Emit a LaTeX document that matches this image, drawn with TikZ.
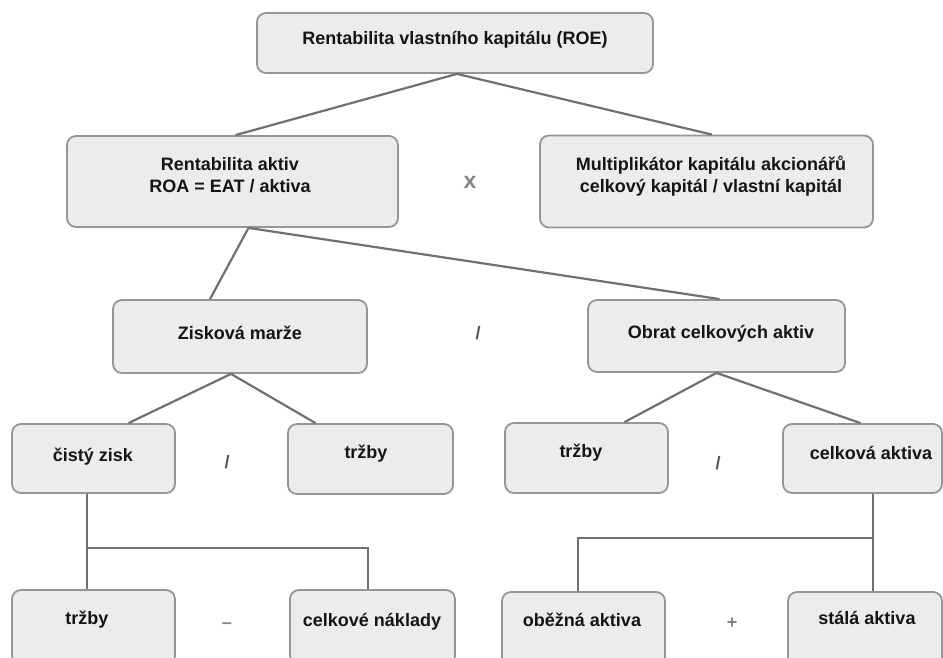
\documentclass[tikz,border=0pt]{standalone}
\usepackage{fontspec}
\setmainfont{Liberation Sans}
\usetikzlibrary{calc}
\definecolor{boxfill}{HTML}{ECECEC}
\definecolor{boxline}{HTML}{959595}
\definecolor{linkc}{HTML}{707070}
\definecolor{txt}{HTML}{151515}
\definecolor{opc}{HTML}{555555}
\definecolor{oplight}{HTML}{858585}
\tikzset{
  box/.style={draw=boxline, fill=boxfill, line width=1.8pt, rounded corners=9pt, inner sep=0pt},
  lbl/.style={font=\bfseries\fontsize{18}{22}\selectfont, text=txt, align=center, inner sep=0pt},
  link/.style={draw=linkc, line width=2.2pt},
  opsign/.style={font=\bfseries\fontsize{18}{22}\selectfont, text=opc, inner sep=0pt},
}
\begin{document}
\begin{tikzpicture}[x=1pt,y=-1pt]
\useasboundingbox (0,0) rectangle (943,657);
\clip (0,0) rectangle (943,657);
% boxes
\node[box, minimum width=396pt, minimum height=60pt] (top) at (455,43) {};
\node[box, minimum width=331pt, minimum height=91pt] (roa) at (232.5,181.5) {};
\node[box, minimum width=333pt, minimum height=92pt] (mult) at (706.5,181.5) {};
\node[box, minimum width=254pt, minimum height=73pt] (zm) at (240,336.5) {};
\node[box, minimum width=257pt, minimum height=72pt] (obr) at (716.5,336) {};
\node[box, minimum width=163pt, minimum height=69pt] (cz) at (93.5,458.5) {};
\node[box, minimum width=165pt, minimum height=70pt] (tr1) at (370.5,459) {};
\node[box, minimum width=163pt, minimum height=70pt] (tr2) at (586.5,458) {};
\node[box, minimum width=159pt, minimum height=69pt] (ca) at (862.5,458.5) {};
\node[box, minimum width=163pt, minimum height=75pt] (tr3) at (93.5,627.5) {};
\node[box, minimum width=165pt, minimum height=75pt] (cn) at (372.5,627.5) {};
\node[box, minimum width=163pt, minimum height=75pt] (ob) at (583.5,629.5) {};
\node[box, minimum width=154pt, minimum height=75pt] (st) at (865,629.5) {};
% connectors
\draw[link] ([xshift=2pt]top.south) -- ([xshift=3pt]roa.north);
\draw[link] ([xshift=2pt]top.south) -- ([xshift=5.5pt]mult.north);
\draw[link] ([xshift=16pt]roa.south) -- ([xshift=-30pt]zm.north);
\draw[link] ([xshift=16pt]roa.south) -- ([xshift=3pt]obr.north);
\draw[link] ([xshift=-9pt]zm.south) -- ([xshift=35pt]cz.north);
\draw[link] ([xshift=-9pt]zm.south) -- ([xshift=-55pt]tr1.north);
\draw[link] (obr.south) -- ([xshift=38pt]tr2.north);
\draw[link] (obr.south) -- ([xshift=-2pt]ca.north);
\coordinate (j1) at (87,548);
\coordinate (j2) at (873,538);
\draw[link] ([xshift=-6.5pt]cz.south) -- ([xshift=-6.5pt]tr3.north);
\draw[link] (j1) -| ([xshift=-4.5pt]cn.north);
\draw[link] ([xshift=10.5pt]ca.south) -- ([xshift=8pt]st.north);
\draw[link] (j2) -| ([xshift=-5.5pt]ob.north);
% labels
\node[lbl] (ttop) at (455,40) {Rentabilita vlastního kapitálu (ROE)};
\node[lbl] (troa) at (230,175) {Rentabilita aktiv\\ROA = EAT / aktiva};
\node[lbl] (tmult) at (711,176) {Multiplikátor kapitálu akcionářů\\celkový kapitál / vlastní kapitál};
\node[lbl] (tzm) at (240,333) {Zisková marže};
\node[lbl] (tobr) at (721,334) {Obrat celkových aktiv};
\node[lbl] (tcz) at (93,457) {čistý zisk};
\node[lbl] (ttr1) at (366,454) {tržby};
\node[lbl] (ttr2) at (581,453) {tržby};
\node[lbl] (tca) at (871,453) {celková aktiva};
\node[lbl] (ttr3) at (87,620) {tržby};
\node[lbl] (tcn) at (372,622) {celkové náklady};
\node[lbl] (tob) at (582,620) {oběžná aktiva};
\node[lbl] (tst) at (867,618) {stálá aktiva};
% operators
\node[opsign, text=oplight, font=\bfseries\fontsize{23}{26}\selectfont] (opx) at (470,182) {x};
\node[opsign] (ops1) at (478,333) {/};
\node[opsign] (ops2) at (227,462) {/};
\node[opsign] (ops3) at (718,463) {/};
\node[opsign, text=oplight] (opm) at (227,626) {–};
\node[opsign, text=oplight] (opp) at (732,623) {+};
\end{tikzpicture}
\end{document}
